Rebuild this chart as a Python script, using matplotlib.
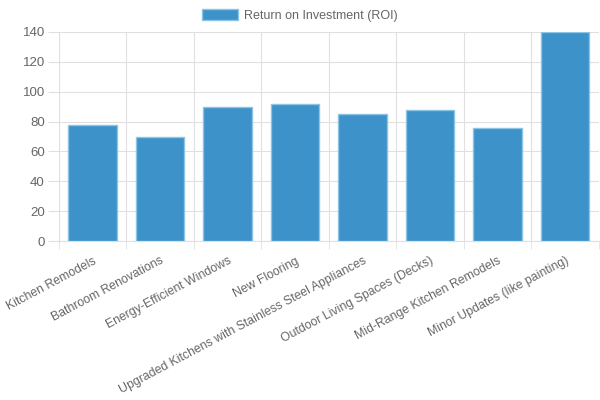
"""
plot.py - ROI bar chart for home improvement projects.
"""
import matplotlib
matplotlib.use('Agg')
import matplotlib.pyplot as plt
from matplotlib.patches import Patch

projects = ['Kitchen Remodels', 'Bathroom Renovations', 'Energy-Efficient Windows',
            'New Flooring', 'Upgraded Kitchens with Stainless Steel Appliances',
            'Outdoor Living Spaces (Decks)', 'Mid-Range Kitchen Remodels',
            'Minor Updates (like painting)']
roi = [78, 70, 90, 92, 85, 88, 76, 140]
yticks = [0, 20, 40, 60, 80, 100, 120, 140]

bar_color = '#3d92c9'
edge_color = '#8cc4e6'
text_color = '#666666'
grid_color = '#e0e0e0'

plt.rcParams['font.family'] = ['Liberation Sans', 'DejaVu Sans']

fig = plt.figure(figsize=(6.0, 4.0), dpi=100)
ax = fig.add_axes([0.098, 0.3975, 0.9, 0.5225])

x = list(range(len(projects)))
ax.bar(x, roi, width=0.72, color=bar_color, edgecolor=edge_color, linewidth=1, zorder=3)

ax.set_xlim(-0.5, len(projects) - 0.5)
ax.set_ylim(0, 140)
ax.set_yticks(yticks)
ax.set_yticklabels([str(v) for v in yticks], fontsize=9.5, color=text_color)

ax.set_xticks(x)
ax.set_xticklabels(projects, rotation=28, ha='right', rotation_mode='anchor',
                   fontsize=8.8, color=text_color)
ax.tick_params(axis='x', length=0, pad=10)
ax.tick_params(axis='y', length=8, color=grid_color, pad=2)

# grid lines between categories
ax.set_xticks([i - 0.5 for i in range(len(projects) + 1)], minor=True)
ax.tick_params(axis='x', which='minor', length=6, color=grid_color)
ax.grid(True, which='minor', axis='x', color=grid_color, linewidth=0.8, zorder=0)
ax.grid(True, which='major', axis='y', color=grid_color, linewidth=0.8, zorder=0)

for side in ['top', 'right']:
    ax.spines[side].set_visible(False)
ax.spines['left'].set_color(grid_color)
ax.spines['bottom'].set_color(grid_color)

handle = Patch(facecolor=bar_color, edgecolor=edge_color)
fig.legend(handles=[handle], labels=['Return on Investment (ROI)'], loc='upper center',
           bbox_to_anchor=(0.5, 1.005), frameon=False, fontsize=9,
           handlelength=2.9, handleheight=1.0, handletextpad=0.5, labelcolor=text_color)

fig.savefig('out.png', dpi=100)
